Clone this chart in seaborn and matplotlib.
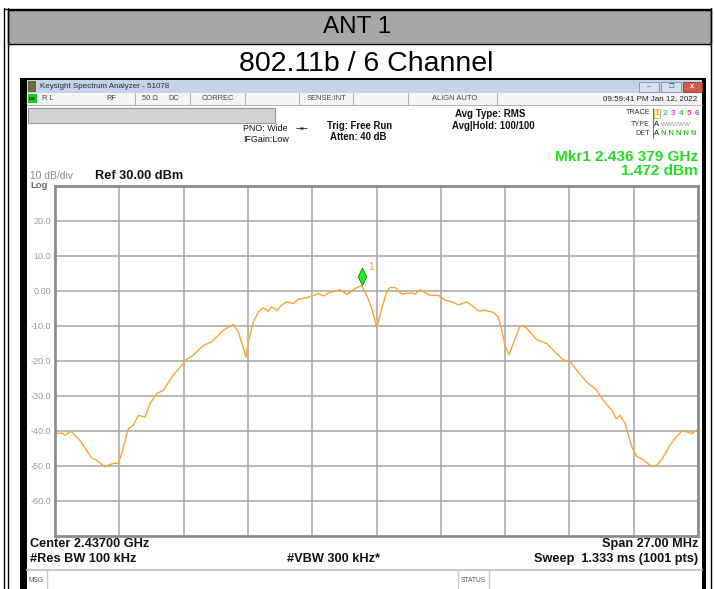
import numpy as np
import pandas as pd
import matplotlib
matplotlib.use("Agg")
import matplotlib.pyplot as plt
from matplotlib.patches import Rectangle
from matplotlib.lines import Line2D
from matplotlib.path import Path
import seaborn as sns

sns.set_theme(style="white")
plt.rcParams['font.family'] = ['Liberation Sans', 'DejaVu Sans']

W, H = 714, 589

# Trace (frequency in MHz, level in dBm)
freq_mhz = [2423.50, 2423.78, 2423.92, 2424.16, 2424.55, 2424.83, 2425.04, 2425.25,
            2425.60, 2425.81, 2426.02, 2426.16, 2426.30, 2426.58, 2426.79, 2427.00,
            2427.28, 2427.49, 2427.77, 2428.05, 2428.47, 2428.82, 2428.96, 2429.31,
            2429.73, 2430.08, 2430.29, 2430.57, 2430.99, 2431.20, 2431.41, 2431.52,
            2431.62, 2431.83, 2432.04, 2432.25, 2432.46, 2432.60, 2432.81, 2433.02,
            2433.23, 2433.51, 2433.72, 2434.00, 2434.28, 2434.56, 2434.77, 2435.05,
            2435.33, 2435.47, 2435.75, 2436.10, 2436.38, 2436.59, 2436.80, 2437.01,
            2437.22, 2437.43, 2437.57, 2437.78, 2438.06, 2438.27, 2438.48, 2438.62,
            2438.83, 2439.04, 2439.25, 2439.60, 2439.88, 2440.16, 2440.44, 2440.79,
            2441.07, 2441.28, 2441.56, 2441.91, 2442.12, 2442.26, 2442.40, 2442.56,
            2442.75, 2443.03, 2443.24, 2443.45, 2443.73, 2444.15, 2444.50, 2444.84,
            2445.13, 2445.47, 2445.83, 2446.25, 2446.52, 2446.88, 2447.06, 2447.23,
            2447.44, 2447.72, 2447.93, 2448.20, 2448.49, 2448.77, 2449.04, 2449.32,
            2449.61, 2449.82, 2450.03, 2450.24, 2450.50]
level_dbm = [-40.8, -40.6, -41.3, -40.1, -42.7, -45.6, -47.7, -48.4,
             -50.3, -49.6, -49.2, -49.4, -46.5, -39.4, -38.4, -35.6,
             -36.1, -32.2, -29.4, -28.4, -24.1, -21.3, -19.9, -18.4,
             -15.6, -14.6, -13.2, -11.3, -9.6, -11.8, -16.5, -18.9,
             -14.6, -8.9, -6.1, -4.9, -5.9, -4.6, -5.6, -4.1,
             -3.2, -3.7, -2.4, -2.2, -1.5, -0.8, -1.5, -0.5,
             -0.1, 0.3, -1.1, 0.6, 1.47, -1.3, -5.1, -10.5,
             -5.1, -0.3, 0.9, 0.9, -1.0, -0.8, -0.6, -1.0,
             0.3, -0.6, -1.3, -1.3, -2.7, -3.2, -4.1, -3.2,
             -4.6, -5.8, -5.6, -6.2, -7.5, -11.3, -15.6, -18.3,
             -15.0, -10.1, -10.3, -11.8, -14.0, -15.1, -17.5, -19.7,
             -20.3, -23.2, -26.1, -28.4, -31.3, -34.1, -36.5, -35.6,
             -37.9, -44.6, -47.3, -48.2, -49.9, -49.9, -47.5, -44.1,
             -41.6, -40.1, -40.3, -40.8, -39.5]

mkr_freq = 2436.379
mkr_level = 1.472

center_mhz = 2437.0
span_mhz = 27.0
ref_level = 30.0
db_per_div = 10
y_tick_vals = [20, 10, 0, -10, -20, -30, -40, -50, -60]
y_tick_labels = ["20.0", "10.0", "0.00", "-10.0", "-20.0", "-30.0", "-40.0", "-50.0", "-60.0"]

trace_color = '#f7a530'
grid_color = '#a6a6a6'

fig = plt.figure(figsize=(W / 100, H / 100), dpi=100)
fig.patch.set_facecolor('white')


def fx(x):
    return x / W


def fy(y):
    return 1 - y / H


def box(x0, y0, x1, y1, fc, ec='none', lw=0, z=-2):
    fig.add_artist(Rectangle((fx(x0), fy(y1)), (x1 - x0) / W, (y1 - y0) / H,
                             transform=fig.transFigure, facecolor=fc,
                             edgecolor=ec, linewidth=lw, zorder=z))


def hline(y, x0, x1, color='black', lw=1, z=-1):
    fig.add_artist(Line2D([fx(x0), fx(x1)], [fy(y), fy(y)], transform=fig.transFigure,
                          color=color, lw=lw, zorder=z))


def vline(x, y0, y1, color='black', lw=1, z=-1):
    fig.add_artist(Line2D([fx(x), fx(x)], [fy(y0), fy(y1)], transform=fig.transFigure,
                          color=color, lw=lw, zorder=z))


def txt(x, y, s, **kw):
    kw.setdefault('va', 'center')
    fig.text(fx(x), fy(y), s, **kw)


# --- document table around the screenshot ---
box(8, 10, 711, 44, '#a6a6a6', ec='black', lw=1, z=-3)
vline(4, 8, 589, lw=1)
vline(7.5, 8, 589, lw=1)
vline(711, 8, 589, lw=1)
hline(8.5, 4, 711, lw=1)
txt(357.5, 27, "ANT 1", ha='center', fontsize=17.5, color='black')
txt(366.5, 64, "802.11b / 6 Channel", ha='center', fontsize=20.5, color='black')

# --- analyzer window ---
box(20, 78, 706, 589, 'black', z=-3)
box(27, 80, 702, 93, '#c3d3e8')
box(27, 93, 702, 104.5, '#f4f4f4')
box(27, 104.5, 702, 589, 'white')
box(28, 81.5, 36, 91.5, '#6e6a3a')
txt(40, 87, "Keysight Spectrum Analyzer - 51078", fontsize=5.8, color='#2a2a2a')
box(639, 82, 659, 92, '#d4e1f1', ec='#7c8fa8', lw=0.6)
box(661, 82, 681, 92, '#d4e1f1', ec='#7c8fa8', lw=0.6)
box(683, 82, 702, 92, '#d35a48', ec='#8c3a30', lw=0.6)
txt(649, 87, "–", ha='center', fontsize=5, color='#44546a')
txt(671, 87, "❐", ha='center', fontsize=4.5, color='#44546a', family=['DejaVu Sans'])
txt(692.5, 87, "x", ha='center', fontsize=5.5, color='white', weight='bold')

# status row
box(28, 94, 37, 103, '#22cc22')
txt(32.5, 98.5, "LXI", ha='center', fontsize=3.2, color='black', weight='bold')
for sx in [135, 190, 245, 299, 353, 408, 497]:
    vline(sx, 93, 104.5, color='#b0b0b0', lw=0.7)
hline(104.5, 27, 702, color='#b0b0b0', lw=0.7)
status_items = [(42, "R L"), (106, "RF"), (142, "50 Ω"), (168, "DC"),
                (202, "CORREC"), (307, "SENSE:INT"), (432, "ALIGN AUTO")]
for sx, s in status_items:
    txt(sx, 98.8, s, ha='left', fontsize=5.4, color='#444444')
txt(697, 98.8, "09:59:41 PM Jan 12, 2022", ha='right', fontsize=5.8, color='#222222')

box(28, 108, 275, 123, '#d3d3d3', ec='#9a9a9a', lw=0.8)

# settings text
txt(243, 128.5, "PNO: Wide", fontsize=6.4, color='#111111')
txt(243, 140, "IFGain:Low", fontsize=6.4, color='#111111')
txt(296, 128.5, "→←", fontsize=5.5, color='#111111', family=['DejaVu Sans'])
txt(327, 125.5, "Trig: Free Run", fontsize=6.9, color='#111111', weight='bold')
txt(330, 137, "Atten: 40 dB", fontsize=6.9, color='#111111', weight='bold')
txt(455, 114, "Avg Type: RMS", fontsize=7.0, color='#111111', weight='bold')
txt(452, 125.5, "Avg|Hold: 100/100", fontsize=6.9, color='#111111', weight='bold')

# trace table
txt(650, 113, "TRACE", ha='right', fontsize=5.2, color='#333333')
txt(650, 124, "TYPE", ha='right', fontsize=5.2, color='#333333')
txt(650, 133.5, "DET", ha='right', fontsize=5.2, color='#333333')
vline(652.5, 108, 138, color='#555555', lw=0.6)
box(653.5, 108.5, 659.5, 118, '#fff6c8', ec='#d0a040', lw=0.5)
trace_nums = ["1", "2", "3", "4", "5", "6"]
trace_cols = ['#f0a020', '#20c8f0', '#f040f0', '#40c840', '#f04060', '#9a50f0']
for i, (s, c) in enumerate(zip(trace_nums, trace_cols)):
    txt(656.5 + i * 8.2, 113.5, s, ha='center', fontsize=6, color=c, weight='bold')
txt(654, 124, "A", fontsize=5.4, color='#111111')
txt(661, 124, "WWWWW", fontsize=4.6, color='#999999')
txt(654, 133.5, "A", fontsize=5.4, color='#111111')
txt(661, 133.5, "N N N N N", fontsize=5.4, color='#30c830', weight='bold')

# marker readout
txt(698, 157, "Mkr1 2.436 379 GHz", ha='right', fontsize=11.1, color='#22dd22', weight='bold')
txt(698, 171, "1.472 dBm", ha='right', fontsize=11.1, color='#22dd22', weight='bold')

txt(30, 176, "10 dB/div", fontsize=7.4, color='#8a8a8a')
txt(30, 185, "Log", fontsize=6.8, color='#6a6a6a', weight='bold')
txt(95, 176, "Ref 30.00 dBm", fontsize=9.2, color='#111111', weight='bold')

# bottom annotations
txt(30, 544, "Center 2.43700 GHz", fontsize=9.2, color='#111111', weight='bold')
txt(30, 559, "#Res BW 100 kHz", fontsize=9.2, color='#111111', weight='bold')
txt(333.5, 559, "#VBW 300 kHz*", ha='center', fontsize=9.2, color='#111111', weight='bold')
txt(698, 544, "Span 27.00 MHz", ha='right', fontsize=9.2, color='#111111', weight='bold')
txt(698, 559, "Sweep  1.333 ms (1001 pts)", ha='right', fontsize=9.2, color='#111111', weight='bold')
hline(570, 27, 702, color='#c8c8c8', lw=1.5)
vline(47, 570, 589, color='#c8c8c8', lw=1)
vline(458, 570, 589, color='#c8c8c8', lw=1)
vline(489, 570, 589, color='#c8c8c8', lw=1)
txt(28.5, 580, "MSG", fontsize=4.8, color='#555555')
txt(473.5, 580, "STATUS", ha='center', fontsize=4.8, color='#555555')

# --- spectrum plot ---
ax = fig.add_axes([55 / W, 1 - 536 / H, 643 / W, 350.5 / H])
ax.set_facecolor('white')
df = pd.DataFrame({'freq': freq_mhz, 'level': level_dbm})
f_start = center_mhz - span_mhz / 2
f_stop = center_mhz + span_mhz / 2
ax.set_xlim(f_start, f_stop)
ax.set_ylim(ref_level - 10 * db_per_div, ref_level)

ax.set_xticks(np.linspace(f_start, f_stop, 11)[1:-1])
ax.set_xticklabels([])
ax.set_yticks(y_tick_vals)
ax.set_yticklabels(y_tick_labels)
ax.tick_params(axis='both', length=0)
ax.tick_params(axis='y', pad=3, labelsize=6.5, labelcolor='#9a9a9a')
ax.grid(True, color=grid_color, lw=1.1)
for sp in ax.spines.values():
    sp.set_color('#8c8c8c')
    sp.set_linewidth(2)

sns.lineplot(data=df, x='freq', y='level', ax=ax, color=trace_color, lw=1)
ax.set_xlabel('')
ax.set_ylabel('')

# marker diamond sitting on the peak point
diamond = Path([(0, 0), (0.5, 1), (0, 2), (-0.5, 1), (0, 0)],
               [Path.MOVETO, Path.LINETO, Path.LINETO, Path.LINETO, Path.CLOSEPOLY])
ax.plot([mkr_freq], [mkr_level], marker=diamond, markersize=25,
        markerfacecolor='#22ee22', markeredgecolor='#167a16', markeredgewidth=0.6,
        linestyle='none', zorder=5)
ax.annotate("1", (mkr_freq, mkr_level), xytext=(5, 13), textcoords='offset points',
            fontsize=7.5, color=trace_color, va='center')

fig.savefig('out.png', dpi=100, facecolor='white')
